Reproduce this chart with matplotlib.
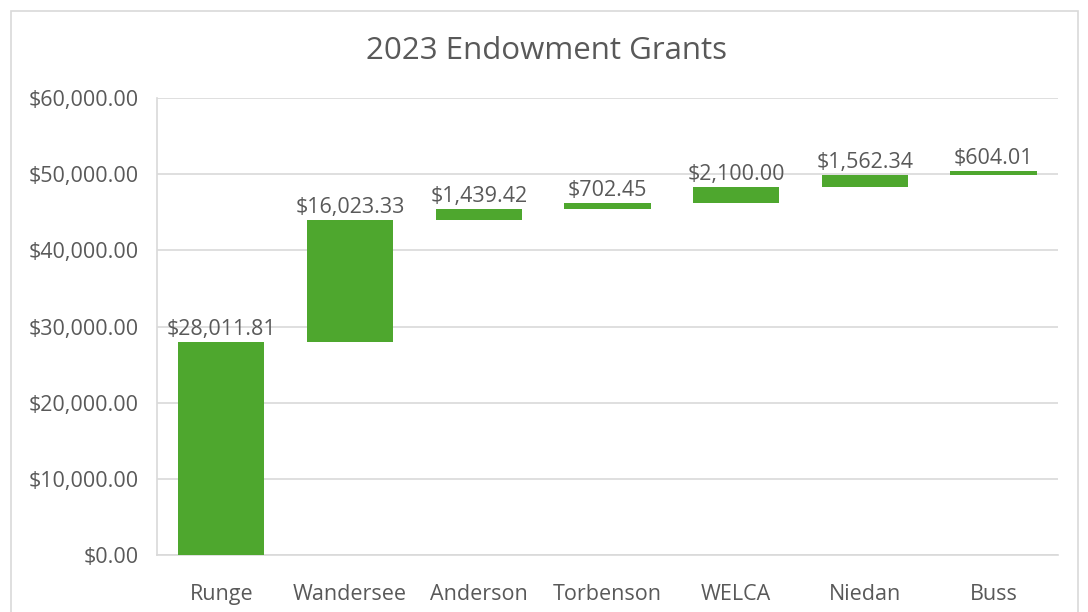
import numpy as np
import matplotlib
matplotlib.use('Agg')
import matplotlib.pyplot as plt
from matplotlib.patches import Rectangle
from matplotlib.ticker import FuncFormatter

# Grant data
names = ["Runge", "Wandersee", "Anderson", "Torbenson", "WELCA", "Niedan", "Buss"]
amounts = [28011.81, 16023.33, 1439.42, 702.45, 2100.00, 1562.34, 604.01]

GREEN = '#4ea72e'
TEXT = '#595959'
GRID = '#d9d9d9'

plt.rcParams['font.family'] = ['Open Sans', 'DejaVu Sans']

fig = plt.figure(figsize=(10.88, 6.12), dpi=100)
ax = fig.add_axes([0.1443, 0.0931, 0.828, 0.7468])

# Outer chart border (runs off the bottom edge)
fig.patches.append(Rectangle((11/1088, -0.05), (1078-11)/1088, (601+0.05*612)/612,
                             transform=fig.transFigure, fill=False, edgecolor=GRID, lw=1.2))

x = np.arange(len(names))
bottoms = np.concatenate([[0], np.cumsum(amounts)[:-1]])
ax.bar(x, amounts, bottom=bottoms, width=0.67, color=GREEN, zorder=3)

# Value labels on top of each bar
for xi, b, a in zip(x, bottoms, amounts):
    ax.text(xi, b + a + 250, "${:,.2f}".format(a), ha='center', va='bottom',
            fontsize=15.5, color=TEXT, zorder=4)

ax.set_xlim(-0.5, len(names) - 0.5)
ax.set_ylim(0, 60000)
ax.set_yticks(np.arange(0, 60001, 10000))
ax.yaxis.set_major_formatter(FuncFormatter(lambda v, p: "${:,.2f}".format(v)))
ax.set_xticks(x)
ax.set_xticklabels(names)

ax.grid(axis='y', color=GRID, lw=1.2, zorder=0)
for s in ['top', 'right']:
    ax.spines[s].set_visible(False)
for s in ['left', 'bottom']:
    ax.spines[s].set_color(GRID)
    ax.spines[s].set_linewidth(1.2)
ax.tick_params(axis='both', length=0, labelsize=15.5, labelcolor=TEXT)
ax.tick_params(axis='x', pad=21)
ax.tick_params(axis='y', pad=13)

fig.text(0.502, 0.916, "2023 Endowment Grants", ha='center', va='center',
         fontsize=22.5, color=TEXT)

fig.savefig('out.png', dpi=100)
